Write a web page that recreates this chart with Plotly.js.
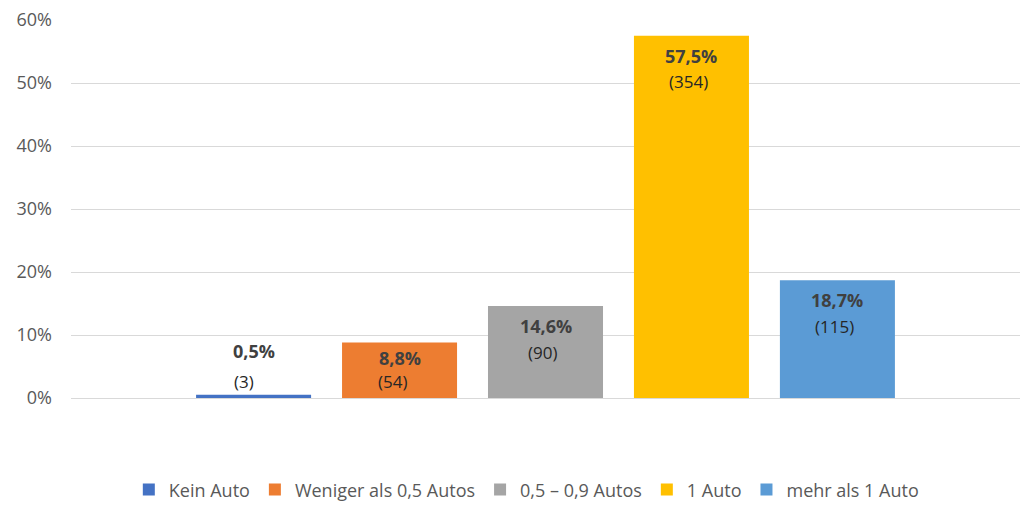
<!DOCTYPE html>
<html>
<head>
<meta charset="utf-8">
<script src="https://cdn.plot.ly/plotly-3.0.1.min.js"></script>
<style>html,body{margin:0;padding:0;background:#fff;}#chart{width:1020px;height:505px;}</style>
</head>
<body>
<div id="chart"></div>
<script>
const seriesNames = ["Kein Auto", "Weniger als 0,5 Autos", "0,5 \u2013 0,9 Autos", "1 Auto", "mehr als 1 Auto"];
const shares = [0.005, 0.088, 0.146, 0.575, 0.187];
const counts = [3, 54, 90, 354, 115];
const colors = ["#4472C4", "#ED7D31", "#A5A5A5", "#FFC000", "#5B9BD5"];
const yTickVals = [0, 0.1, 0.2, 0.3, 0.4, 0.5, 0.6];
const yTickText = ["0%", "10%", "20%", "30%", "40%", "50%", "60%"];
const category = [""];

const FONT = "'Open Sans', 'Noto Sans', sans-serif";
const BARGAP = 0.231, BARGROUPGAP = 0.212;
const nSeries = seriesNames.length;
const M = {l: 71, r: 0, t: 19.5, b: 107};
const H = 505, YMAX = 0.6;
const pxPerUnit = (H - M.t - M.b) / YMAX;

const traces = seriesNames.map((name, i) => ({
  type: 'bar',
  name: name,
  x: category,
  y: [shares[i]],
  marker: {color: colors[i], line: {width: 0}},
  hoverinfo: 'name+y'
}));

// data labels as annotations placed at each bar's top (bar centre from the group layout)
const slot = (1 - BARGAP) / nSeries;
const annotations = [];
seriesNames.forEach((name, i) => {
  const xc = (i - (nSeries - 1) / 2) * slot;
  const pct = (shares[i] * 100).toFixed(1).replace('.', ',') + '%';
  const hPx = shares[i] * pxPerUnit;
  let pShift, cShift, cx;
  if (hPx < 20) {            // too small: label above the bar
    pShift = 44; cShift = 13; cx = -10;
  } else if (hPx < 90) {     // short bar: label centred in the bar
    pShift = -(hPx / 2 - 12); cShift = -(hPx / 2 + 11); cx = -7;
  } else {                   // inside end
    pShift = -20; cShift = -46; cx = -3;
  }
  annotations.push({
    x: xc, y: shares[i], xref: 'x', yref: 'y',
    text: '<b>' + pct + '</b>', showarrow: false,
    yanchor: 'middle', yshift: pShift,
    font: {family: FONT, size: 18, color: '#404040'}
  });
  annotations.push({
    x: xc, y: shares[i], xref: 'x', yref: 'y',
    text: '(' + counts[i] + ')', showarrow: false,
    yanchor: 'middle', yshift: cShift, xshift: cx,
    font: {family: FONT, size: 17, color: '#262626'}
  });
});

const layout = {
  width: 1020,
  height: H,
  margin: {l: M.l, r: M.r, t: M.t, b: M.b, pad: 0},
  paper_bgcolor: '#ffffff',
  plot_bgcolor: '#ffffff',
  font: {family: FONT, size: 17, color: '#595959'},
  barmode: 'group',
  bargap: BARGAP,
  bargroupgap: BARGROUPGAP,
  showlegend: true,
  legend: {
    orientation: 'h',
    xref: 'container', yref: 'container',
    x: 0.516, xanchor: 'center',
    y: 0.03, yanchor: 'middle',
    font: {family: FONT, size: 18, color: '#595959'},
    traceorder: 'normal'
  },
  annotations: annotations,
  xaxis: {
    type: 'category',
    showticklabels: false,
    showgrid: false,
    zeroline: false,
    showline: false,
    ticks: ''
  },
  yaxis: {
    range: [0, YMAX],
    tickvals: yTickVals,
    ticktext: yTickText,
    showgrid: true,
    gridcolor: '#d9d9d9',
    gridwidth: 1,
    zeroline: true,
    zerolinecolor: '#d9d9d9',
    zerolinewidth: 1,
    showline: false,
    ticks: '',
    ticklabelstandoff: 18,
    tickfont: {family: FONT, size: 18, color: '#595959'},
    automargin: false
  }
};

Plotly.newPlot('chart', traces, layout, {displayModeBar: false, staticPlot: true});
</script>
</body>
</html>
